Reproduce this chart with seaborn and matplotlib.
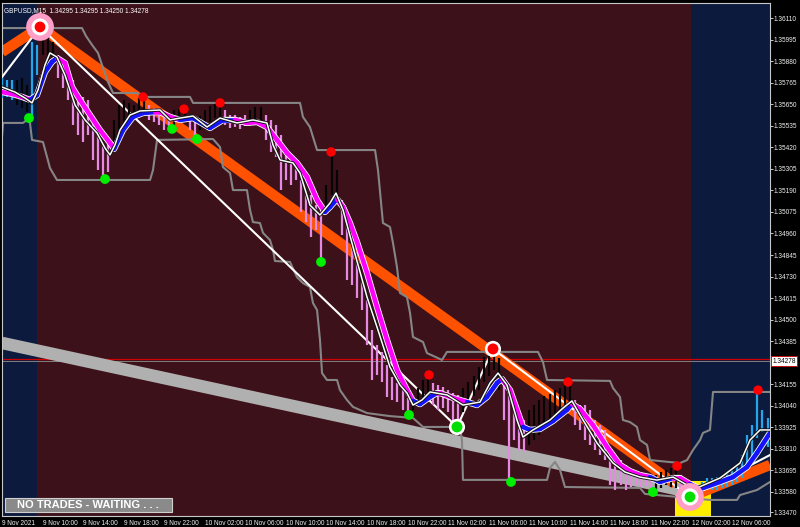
import matplotlib
matplotlib.use('Agg')
import matplotlib.pyplot as plt
import matplotlib.patheffects as pe
from matplotlib.collections import LineCollection
from matplotlib.patches import Rectangle
from matplotlib import font_manager
import seaborn as sns
import numpy as np
import pandas as pd

# --- data: time in hours from 9 Nov 06:00, price bars sampled every half hour ---
bar_high = [
    1.35791, 1.35780, 1.35780, 1.35780, 1.35791, 1.35754, 1.35984, 1.35968, 1.36064, 1.36010,
    1.35984, 1.35914, 1.35877, 1.35834, 1.35780, 1.35700, 1.35690, 1.35674, 1.35593, 1.35513,
    1.35433, 1.35460, 1.35567, 1.35647, 1.35674, 1.35658, 1.35647, 1.35684, 1.35690, 1.35647,
    1.35631, 1.35631, 1.35609, 1.35593, 1.35620, 1.35625, 1.35625, 1.35593, 1.35577, 1.35588,
    1.35620, 1.35641, 1.35652, 1.35658, 1.35620, 1.35593, 1.35593, 1.35583, 1.35593, 1.35620,
    1.35636, 1.35636, 1.35593, 1.35567, 1.35540, 1.35486, 1.35406, 1.35380, 1.35353, 1.35246,
    1.35192, 1.35166, 1.35112, 1.35086, 1.35219, 1.35396, 1.35299, 1.35139, 1.35032, 1.34936,
    1.34861, 1.34701, 1.34605, 1.34444, 1.34364, 1.34327, 1.34257, 1.34193, 1.34161, 1.34123,
    1.34081, 1.34097, 1.34134, 1.34177, 1.34198, 1.34161, 1.34150, 1.34140, 1.34123, 1.34107,
    1.34097, 1.34134, 1.34166, 1.34198, 1.34246, 1.34300, 1.34332, 1.34348, 1.34295, 1.34177,
    1.34123, 1.34043, 1.33990, 1.33963, 1.34017, 1.34043, 1.34070, 1.34091, 1.34102, 1.34123,
    1.34134, 1.34156, 1.34161, 1.34070, 1.34043, 1.34043, 1.34017, 1.33963, 1.33936, 1.33910,
    1.33803, 1.33776, 1.33749, 1.33723, 1.33696, 1.33680, 1.33685, 1.33675, 1.33664, 1.33669,
    1.33685, 1.33696, 1.33707, 1.33717, 1.33669, 1.33642, 1.33616, 1.33616, 1.33632, 1.33653,
    1.33653, 1.33658, 1.33664, 1.33680, 1.33696, 1.33712, 1.33776, 1.33883, 1.33936, 1.34113,
    1.34017, 1.33974,
]
bar_low = [
    1.35684, 1.35690, 1.35674, 1.35647, 1.35631, 1.35609, 1.35577, 1.35807, 1.35914, 1.35914,
    1.35877, 1.35791, 1.35738, 1.35674, 1.35540, 1.35486, 1.35449, 1.35486, 1.35353, 1.35299,
    1.35251, 1.35289, 1.35406, 1.35486, 1.35556, 1.35577, 1.35588, 1.35609, 1.35599, 1.35567,
    1.35556, 1.35540, 1.35513, 1.35513, 1.35535, 1.35567, 1.35556, 1.35513, 1.35465, 1.35513,
    1.35524, 1.35556, 1.35577, 1.35577, 1.35540, 1.35524, 1.35529, 1.35519, 1.35535, 1.35556,
    1.35567, 1.35556, 1.35460, 1.35396, 1.35369, 1.35192, 1.35246, 1.35219, 1.35246, 1.35075,
    1.35021, 1.34941, 1.34979, 1.34808, 1.35059, 1.35166, 1.35139, 1.34952, 1.34711, 1.34685,
    1.34615, 1.34551, 1.34364, 1.34177, 1.34204, 1.34166, 1.34086, 1.34070, 1.34059, 1.34017,
    1.33990, 1.34017, 1.34038, 1.34070, 1.34091, 1.34043, 1.34017, 1.34027, 1.34006, 1.33952,
    1.33936, 1.34006, 1.34059, 1.34091, 1.34123, 1.34166, 1.34198, 1.34230, 1.34123, 1.33963,
    1.33637, 1.33856, 1.33803, 1.33792, 1.33830, 1.33856, 1.33883, 1.33910, 1.33936, 1.33963,
    1.33990, 1.34038, 1.34043, 1.33936, 1.33910, 1.33856, 1.33830, 1.33803, 1.33776, 1.33749,
    1.33616, 1.33589, 1.33616, 1.33589, 1.33605, 1.33616, 1.33605, 1.33610, 1.33578, 1.33589,
    1.33600, 1.33616, 1.33605, 1.33600, 1.33562, 1.33552, 1.33536, 1.33536, 1.33562, 1.33589,
    1.33589, 1.33589, 1.33600, 1.33605, 1.33616, 1.33632, 1.33653, 1.33707, 1.33739, 1.33867,
    1.33899, 1.33819,
]
# c = bull bar in blue session, k = black bar, p = bearish (pink) bar
bar_kind = ("ccckkkcckkk" "ppppppppppp" "kkkkkkk" "ppppp" "kkk" "pp" "kkkkk" "ppppp" "kkk"
            "pppppppppppp" "kkk" "pppppppppppppp" "kkkk" "pppppp" "kkkkkkkk" "ppppp"
            "kkkkkkkkk" "pppppppppppppppp" "kkkkk" "pp" "k" "ccccccccccccccc")

# slow smoothed line (thick), direction flag 1 = rising (blue), 0 = falling (magenta)
ma_t = [0.00, 0.99, 1.97, 2.76, 3.45, 4.24, 4.93, 5.42, 6.21, 6.90,
        7.69, 9.66, 10.65, 11.05, 11.93, 12.92, 13.91, 15.09, 15.58, 16.57,
        17.55, 18.84, 20.51, 21.80, 22.98, 24.16, 25.15, 26.13, 27.12, 28.11,
        29.09, 30.08, 31.07, 31.85, 32.35, 33.04, 33.63, 34.32, 35.01, 36.00,
        36.98, 37.97, 38.95, 39.94, 40.53, 41.22, 42.21, 42.90, 43.20, 44.48,
        45.86, 46.84, 47.83, 48.82, 49.31, 50.10, 50.79, 51.38, 52.07, 53.06,
        54.34, 55.72, 56.21, 57.00, 58.28, 59.67, 60.95, 61.93, 62.92, 63.91,
        64.89, 66.17, 66.86, 67.85, 68.84, 70.81, 72.09, 73.47, 74.46, 75.74]
ma_p = [1.35716, 1.35706, 1.35690, 1.35674, 1.35700, 1.35823, 1.35877, 1.35898, 1.35871, 1.35743,
        1.35674, 1.35513, 1.35444, 1.35412, 1.35513, 1.35583, 1.35604, 1.35609, 1.35609, 1.35583,
        1.35567, 1.35577, 1.35524, 1.35567, 1.35567, 1.35551, 1.35556, 1.35529, 1.35460, 1.35390,
        1.35337, 1.35262, 1.35139, 1.35075, 1.35102, 1.35144, 1.35102, 1.35016, 1.34915, 1.34749,
        1.34567, 1.34391, 1.34230, 1.34123, 1.34065, 1.34048, 1.34086, 1.34107, 1.34107, 1.34081,
        1.34059, 1.34043, 1.34086, 1.34161, 1.34182, 1.34123, 1.34017, 1.33926, 1.33910, 1.33915,
        1.33958, 1.34017, 1.34048, 1.34022, 1.33936, 1.33819, 1.33723, 1.33690, 1.33669, 1.33658,
        1.33632, 1.33653, 1.33653, 1.33621, 1.33594, 1.33632, 1.33658, 1.33712, 1.33787, 1.33894]
ma_up = [0, 0, 0, 0, 1, 1, 1, 1, 0, 0,
         0, 0, 0, 0, 1, 1, 1, 1, 0, 0,
         0, 1, 1, 1, 1, 0, 0, 0, 0, 0,
         0, 0, 0, 0, 1, 1, 0, 0, 0, 0,
         0, 0, 0, 0, 0, 1, 1, 1, 0, 0,
         0, 1, 1, 1, 1, 0, 0, 0, 1, 1,
         1, 1, 1, 0, 0, 0, 0, 0, 0, 0,
         1, 1, 0, 0, 1, 1, 1, 1, 1, 1]

# fast smoothed line (thin white)
fast_t = [0.00, 1.28, 2.27, 2.96, 3.55, 4.24, 4.73, 5.42, 6.21, 7.20,
          8.19, 9.37, 10.16, 10.65, 11.14, 11.64, 12.62, 13.61, 15.58, 16.57,
          17.55, 18.84, 20.22, 21.50, 23.18, 24.75, 26.13, 26.73, 27.42, 28.70,
          29.39, 30.37, 31.36, 32.35, 32.94, 33.63, 34.62, 36.00, 36.98, 38.26,
          39.25, 39.94, 40.53, 41.42, 42.21, 43.89, 45.46, 47.14, 48.13, 48.92,
          49.80, 50.79, 51.38, 52.37, 54.04, 55.33, 56.21, 57.00, 58.68, 60.26,
          61.44, 62.92, 64.60, 66.18, 67.55, 68.54, 70.81, 72.78, 73.77, 74.76, 75.74]
fast_p = [1.35743, 1.35716, 1.35684, 1.35658, 1.35727, 1.35861, 1.35925, 1.35903, 1.35807, 1.35647,
          1.35567, 1.35497, 1.35417, 1.35380, 1.35433, 1.35513, 1.35593, 1.35615, 1.35620, 1.35567,
          1.35577, 1.35588, 1.35529, 1.35577, 1.35551, 1.35567, 1.35551, 1.35433, 1.35353, 1.35337,
          1.35283, 1.35112, 1.35059, 1.35123, 1.35176, 1.35086, 1.34888, 1.34620, 1.34460, 1.34246,
          1.34150, 1.34107, 1.34043, 1.34070, 1.34113, 1.34097, 1.34043, 1.34059, 1.34161, 1.34214,
          1.34150, 1.33963, 1.33872, 1.33910, 1.33963, 1.34027, 1.34065, 1.33990, 1.33840, 1.33733,
          1.33685, 1.33658, 1.33642, 1.33658, 1.33616, 1.33600, 1.33653, 1.33733, 1.33856, 1.33910, 1.33910]

# channel step lines
upper_t = [0.00, 7.89, 8.28, 8.88, 9.47, 9.96, 10.45, 10.95, 13.31, 13.91,
           18.54, 18.84, 29.39, 29.68, 30.37, 30.67, 31.07, 36.79, 37.08, 37.57,
           38.26, 38.56, 38.95, 39.25, 39.94, 40.24, 40.53, 41.52, 41.91, 43.39,
           43.88, 52.86, 53.35, 53.75, 59.96, 60.26, 60.95, 61.24, 61.93, 62.62,
           62.92, 63.61, 63.91, 66.87, 67.56, 68.15, 68.84, 69.13, 69.82, 70.12, 75.74]
upper_p = [1.36058, 1.36058, 1.36016, 1.35968, 1.35925, 1.35845, 1.35770, 1.35711, 1.35711, 1.35690,
           1.35690, 1.35658, 1.35658, 1.35583, 1.35529, 1.35476, 1.35406, 1.35406, 1.35299, 1.35016,
           1.34995, 1.34909, 1.34781, 1.34642, 1.34620, 1.34535, 1.34407, 1.34380, 1.34321, 1.34284,
           1.34327, 1.34327, 1.34273, 1.34177, 1.34172, 1.34134, 1.34086, 1.33963, 1.33952, 1.33926,
           1.33856, 1.33830, 1.33749, 1.33733, 1.33749, 1.33803, 1.33856, 1.33894, 1.33910, 1.34113, 1.34113]
lower_t = [0.00, 0.10, 2.07, 2.47, 2.76, 2.96, 4.04, 4.44, 4.73, 5.42,
           14.60, 14.89, 15.29, 20.81, 21.50, 21.79, 22.49, 22.78, 24.16, 24.46,
           24.75, 25.44, 25.74, 26.43, 26.73, 26.92, 28.40, 29.09, 29.68, 30.37,
           30.67, 31.07, 31.36, 31.56, 32.05, 33.04, 33.33, 34.02, 34.62, 36.00,
           38.26, 40.53, 41.52, 45.17, 45.36, 45.46, 53.75, 54.04, 54.54, 55.03,
           55.52, 62.92, 63.41, 69.82, 72.49, 72.78, 74.46, 75.74]
lower_p = [1.35476, 1.35551, 1.35551, 1.35567, 1.35551, 1.35460, 1.35449, 1.35369, 1.35310, 1.35246,
           1.35246, 1.35299, 1.35460, 1.35465, 1.35422, 1.35315, 1.35283, 1.35192, 1.35192, 1.35086,
           1.35021, 1.35016, 1.34963, 1.34925, 1.34872, 1.34813, 1.34808, 1.34727, 1.34695, 1.34674,
           1.34588, 1.34551, 1.34391, 1.34214, 1.34177, 1.34177, 1.34123, 1.34070, 1.34033, 1.34000,
           1.33984, 1.33974, 1.33926, 1.33926, 1.33856, 1.33643, 1.33643, 1.33707, 1.33739, 1.33696,
           1.33605, 1.33600, 1.33568, 1.33536, 1.33536, 1.33562, 1.33589, 1.33632]

# trend lines
orange_down_t = [0.00, 3.75, 66.37]
orange_down_p = [1.35930, 1.36064, 1.33621]
orange_up_t = [67.85, 75.74]
orange_up_p = [1.33552, 1.33723]
zigzag_t = [0.00, 3.75, 44.87, 48.42, 67.85, 75.74]
zigzag_p = [1.35796, 1.36064, 1.33926, 1.34343, 1.33552, 1.33776]
band_t = [0.00, 67.85]
band_p = [1.34375, 1.33578]

# fractal dots
red_t = [13.91, 17.95, 21.50, 32.45, 42.11, 55.82, 66.57, 74.56]
red_p = [1.35690, 1.35625, 1.35658, 1.35396, 1.34204, 1.34166, 1.33717, 1.34123]
green_t = [2.66, 10.16, 16.77, 19.23, 31.46, 40.14, 50.20, 64.20]
green_p = [1.35577, 1.35251, 1.35519, 1.35465, 1.34808, 1.33990, 1.33632, 1.33578]

# zigzag turning points (big markers)
top_sig = (3.75, 1.36064)
bottom_sig = (67.85, 1.33552)
swing_high = (48.42, 1.34343)
swing_low = (44.87, 1.33926)

price_ticks = [1.36110, 1.35995, 1.35880, 1.35765, 1.35650, 1.35535, 1.35420, 1.35305,
               1.35190, 1.35075, 1.34960, 1.34845, 1.34730, 1.34615, 1.34500, 1.34385,
               1.34155, 1.34040, 1.33925, 1.33810, 1.33695, 1.33580, 1.33470]
time_ticks = [0, 4, 8, 12, 16, 20, 24, 28, 32, 36, 40, 44, 48, 52, 56, 60, 64, 68, 72]
time_labels = ['9 Nov 2021', '9 Nov 10:00', '9 Nov 14:00', '9 Nov 18:00', '9 Nov 22:00',
               '10 Nov 02:00', '10 Nov 06:00', '10 Nov 10:00', '10 Nov 14:00', '10 Nov 18:00',
               '10 Nov 22:00', '11 Nov 02:00', '11 Nov 06:00', '11 Nov 10:00', '11 Nov 14:00',
               '11 Nov 18:00', '11 Nov 22:00', '12 Nov 02:00', '12 Nov 06:00']
last_price = 1.34278
title = 'GBPUSD,M15  1.34295 1.34295 1.34250 1.34278'

NAVY = '#0c1a3e'
MAROON = '#3d111a'

sns.set_style('dark')
plt.rcParams['font.family'] = ['Liberation Sans', 'DejaVu Sans']

fig = plt.figure(figsize=(8, 5.27), dpi=100, facecolor='black')

# small terminal-style labels: narrowest installed face, sized so a time label fits its slot
installed = {f.name for f in font_manager.fontManager.ttflist}
tick_family = next((n for n in ['Liberation Sans Narrow', 'Liberation Sans', 'DejaVu Sans']
                    if n in installed), 'DejaVu Sans')
probe = fig.text(0, 0, '10 Nov 02:00', family=tick_family, size=10)
probe_w = probe.get_window_extent(fig.canvas.get_renderer()).width
probe.remove()
tick_size = min(5.6, 10 * 39.0 / probe_w)

ax = fig.add_axes([2 / 800, 11 / 527, 768 / 800, 513 / 527])
ax.set_facecolor(MAROON)
ax.set_xlim(0, 75.74)
ax.set_ylim(1.33450, 1.36192)

# session background
ax.axvspan(0, 3.5, color=NAVY, lw=0, zorder=0)
ax.axvspan(67.9, 76, color=NAVY, lw=0, zorder=0)
ax.add_patch(Rectangle((66.37, 1.33450), 3.55, 0.00187, color='#ffee00', lw=0, zorder=0.5))

# price lines
ax.axhline(1.34290, color='#d00000', lw=0.9, zorder=1)
ax.axhline(last_price, color='#808080', lw=0.7, zorder=1)

# thick gray trend band and orange trend lines
sns.lineplot(x=band_t, y=band_p, ax=ax, color='#b0b0b0', lw=9, estimator=None, sort=False,
             zorder=2, solid_capstyle='butt')
sns.lineplot(x=orange_down_t, y=orange_down_p, ax=ax, color='#ff5200', lw=7.5, estimator=None,
             sort=False, zorder=2.2, solid_capstyle='butt')
sns.lineplot(x=orange_up_t, y=orange_up_p, ax=ax, color='#ff5200', lw=7.5, estimator=None,
             sort=False, zorder=2.2, solid_capstyle='butt')

# channels
sns.lineplot(x=upper_t, y=upper_p, ax=ax, color='#858585', lw=1.5, estimator=None, sort=False, zorder=2.5)
sns.lineplot(x=lower_t, y=lower_p, ax=ax, color='#858585', lw=1.5, estimator=None, sort=False, zorder=2.5)

# zigzag
sns.lineplot(x=zigzag_t, y=zigzag_p, ax=ax, color='white', lw=1.5, estimator=None, sort=False, zorder=3)

# price bars
bar_t = np.arange(len(bar_high)) * 0.5
kind_color = {'c': '#23a6ea', 'k': '#050505', 'p': '#e58ae3'}
ax.vlines(bar_t, bar_low, bar_high, colors=[kind_color[k] for k in bar_kind], lw=1.6, zorder=4)

# slow line: white rim under coloured segments
ax.plot(ma_t, ma_p, color='white', lw=4.5, zorder=5, solid_capstyle='round')
pts = np.column_stack([ma_t, ma_p])
segs = np.stack([pts[:-1], pts[1:]], axis=1)
seg_cols = ['#1414ff' if u else '#ff00ff' for u in ma_up[1:]]
ax.add_collection(LineCollection(segs, colors=seg_cols, linewidths=3.3, zorder=5.1, capstyle='round'))

# fast line
sns.lineplot(x=fast_t, y=fast_p, ax=ax, color='white', lw=1.1, estimator=None, sort=False, zorder=5.5,
             path_effects=[pe.Stroke(linewidth=2.4, foreground='#111111'), pe.Normal()])

# fractal dots
sns.scatterplot(x=red_t, y=red_p, ax=ax, color='#ff0000', s=46, edgecolor='none', zorder=6)
sns.scatterplot(x=green_t, y=green_p, ax=ax, color='#00ee00', s=50, edgecolor='none', zorder=6)

# turning point markers
for (t, p), centre in [(top_sig, '#ff0000'), (bottom_sig, '#00dd00')]:
    ax.scatter([t], [p], s=400, color='#ff9ec6', edgecolor='none', zorder=7)
    ax.scatter([t], [p], s=150, color='white', edgecolor='none', zorder=7.1)
    ax.scatter([t], [p], s=60, color=centre, edgecolor='none', zorder=7.2)
for (t, p), centre in [(swing_high, '#ff0000'), (swing_low, '#00dd00')]:
    ax.scatter([t], [p], s=135, color='white', edgecolor='none', zorder=7.1)
    ax.scatter([t], [p], s=62, color=centre, edgecolor='none', zorder=7.2)

# axes styling
for s in ax.spines.values():
    s.set_color('#c8c8c8')
    s.set_linewidth(0.8)
ax.yaxis.tick_right()
ax.set_yticks(price_ticks)
ax.set_yticklabels([f'{v:.5f}' for v in price_ticks])
ax.set_xticks(time_ticks)
ax.set_xticklabels(time_labels)
ax.tick_params(axis='both', colors='#c8c8c8', labelcolor='#f0f0f0', labelsize=tick_size,
               length=2, width=0.7, direction='out', pad=0.8)
for lbl in ax.get_xticklabels() + ax.get_yticklabels():
    lbl.set_family(tick_family)
for lbl in ax.get_xticklabels():
    lbl.set_ha('left')
ax.set_xlabel('')
ax.set_ylabel('')
ax.grid(False)

ax.text(1.003, last_price, f'{last_price:.5f}', transform=ax.get_yaxis_transform(),
        family=tick_family, size=tick_size, color='black', va='center', ha='left', zorder=10,
        clip_on=False,
        bbox=dict(boxstyle='square,pad=0.2', facecolor='white', edgecolor='#d00000', lw=0.6))
ax.text(0.003, 0.993, title, transform=ax.transAxes, family=tick_family, size=tick_size,
        color='white', va='top', ha='left', zorder=10)

ax.add_patch(Rectangle((0.004, 0.008), 0.217, 0.027, transform=ax.transAxes,
                       facecolor='#8a8a8a', edgecolor='#d0d0d0', lw=0.8, zorder=9))
ax.text(0.112, 0.0215, 'NO TRADES - WAITING . . .', transform=ax.transAxes, fontsize=8,
        fontweight='bold', color='white', ha='center', va='center', zorder=10)

fig.savefig('out.png', dpi=100, facecolor='black')
